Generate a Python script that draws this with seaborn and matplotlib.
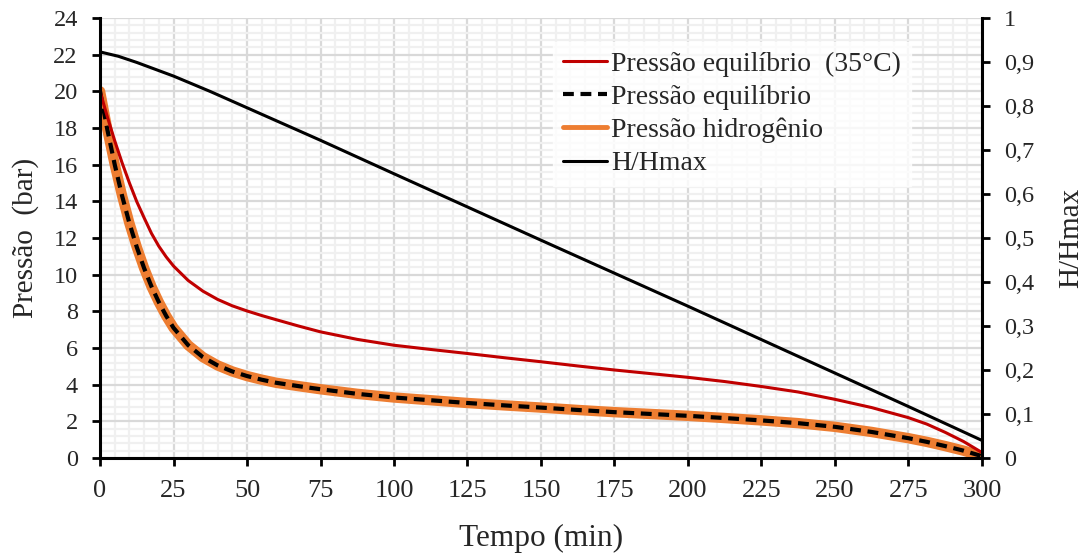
import numpy as np
import pandas as pd
import matplotlib
matplotlib.use('Agg')
import matplotlib.pyplot as plt
import seaborn as sns
from matplotlib.ticker import MultipleLocator, FuncFormatter

# tempo (min) e series
tempo = [0, 2.5, 5, 7.5, 10, 12.5, 15, 17.5, 20, 22.5, 25, 30, 35, 40, 45, 50, 55, 60,
         67.5, 75, 87.5, 100, 112.5, 125, 137.5, 150, 162.5, 175, 187.5, 200, 212.5,
         225, 237.5, 250, 262.5, 275, 281.25, 287.5, 293.75, 300]
p_eq35 = [20.0, 18.6, 17.3, 16.1, 15.0, 13.98, 13.1, 12.25, 11.55, 10.97, 10.47, 9.68, 9.1,
          8.65, 8.3, 8.02, 7.77, 7.54, 7.2, 6.88, 6.47, 6.15, 5.92, 5.7, 5.47, 5.25, 5.02,
          4.8, 4.6, 4.4, 4.17, 3.9, 3.6, 3.2, 2.75, 2.2, 1.85, 1.4, 0.9, 0.3]
p_eq = [20.0, 17.9, 16.0, 14.3, 12.8, 11.5, 10.35, 9.35, 8.5, 7.75, 7.1, 6.15, 5.5,
        5.05, 4.72, 4.47, 4.27, 4.1, 3.92, 3.75, 3.5, 3.3, 3.15, 3.0, 2.87, 2.75, 2.62,
        2.5, 2.4, 2.3, 2.18, 2.05, 1.9, 1.7, 1.42, 1.08, 0.88, 0.65, 0.4, 0.1]
p_h2 = p_eq
tempo_h = [0, 6.25, 12.5, 25, 37.5, 50, 62.5, 75, 100, 150, 200, 250, 275, 300]
h_hmax = [0.923, 0.913, 0.899, 0.868, 0.833, 0.796, 0.759, 0.722, 0.646, 0.495, 0.345,
          0.193, 0.117, 0.04]

sns.set_theme(style="white")
plt.rcParams['font.family'] = ['Liberation Serif', 'DejaVu Serif']

fig = plt.figure(figsize=(10.91, 5.54), dpi=100)
ax = fig.add_axes([0.0917, 0.1733, 0.8083, 0.7942])
ax2 = ax.twinx()

df = pd.DataFrame({'tempo': tempo, 'p_eq35': p_eq35, 'p_eq': p_eq, 'p_h2': p_h2})
dh = pd.DataFrame({'tempo': tempo_h, 'h': h_hmax})

sns.lineplot(data=df, x='tempo', y='p_h2', ax=ax, color='#ED7D31', linewidth=7.5,
             label='Pressão hidrogênio')
sns.lineplot(data=df, x='tempo', y='p_eq', ax=ax, color='black', linewidth=3,
             linestyle=(0, (2.6, 1.6)), label='Pressão equilíbrio')
sns.lineplot(data=df, x='tempo', y='p_eq35', ax=ax, color='#C00000', linewidth=2.2,
             label='Pressão equilíbrio  (35°C)')
sns.lineplot(data=dh, x='tempo', y='h', ax=ax2, color='black', linewidth=2.2,
             label='H/Hmax')

ax.set_xlim(0, 300)
ax.set_ylim(0, 24)
ax2.set_ylim(0, 1)
ax.xaxis.set_major_locator(MultipleLocator(25))
ax.xaxis.set_minor_locator(MultipleLocator(5))
ax.yaxis.set_major_locator(MultipleLocator(2))
ax.yaxis.set_minor_locator(MultipleLocator(0.4))
ax2.yaxis.set_major_locator(MultipleLocator(0.1))
ax2.yaxis.set_major_formatter(FuncFormatter(lambda v, p: ('%g' % round(v, 1)).replace('.', ',')))

ax.grid(which='major', color='#d9d9d9', linewidth=1.6)
ax.grid(which='minor', color='#f0f0f0', linewidth=1.6)
ax.set_axisbelow(True)

for a in (ax, ax2):
    for s in a.spines.values():
        s.set_visible(False)
ax.spines['left'].set_visible(True)
ax.spines['bottom'].set_visible(True)
ax2.spines['right'].set_visible(True)
for s in (ax.spines['left'], ax.spines['bottom'], ax2.spines['right']):
    s.set_color('black')
    s.set_linewidth(2.2)

ax.tick_params(which='major', direction='out', length=6, width=2, color='black',
               left=True, bottom=True)
ax.tick_params(axis='x', labelsize=19, pad=10)
ax.tick_params(axis='y', labelsize=17.5, pad=10)
ax.tick_params(which='minor', length=0)
ax2.tick_params(which='major', direction='out', length=6, width=2, color='black',
                labelsize=17.5, right=True, pad=10)

ax.set_xlabel('Tempo (min)', fontsize=22.5)
ax.set_ylabel('Pressão  (bar)', fontsize=21)
ax2.set_ylabel('H/Hmax', fontsize=21)
ax.xaxis.set_label_coords(0.5, -0.182)
ax.yaxis.set_label_coords(-0.085, 0.5)
ax2.yaxis.set_label_coords(1.101, 0.5)
ax.xaxis.label.set_va('center')
ax.yaxis.label.set_va('center')
ax2.yaxis.label.set_va('center')

h1, l1 = ax.get_legend_handles_labels()
h2, l2 = ax2.get_legend_handles_labels()
ax.get_legend().remove()
ax2.get_legend().remove()
order = [2, 1, 0]
handles = [h1[i] for i in order] + h2
labels = [l1[i] for i in order] + l2
leg = ax2.legend(handles, labels, loc='upper left', bbox_to_anchor=(0.507, 0.925),
                 bbox_transform=fig.transFigure, fontsize=20, frameon=True,
                 handlelength=1.6, handletextpad=0.15, labelspacing=0.28,
                 borderpad=0.35, borderaxespad=0, fancybox=False)
leg.get_frame().set_facecolor('white')
leg.get_frame().set_edgecolor('white')
leg.legend_handles[2].set_linewidth(3.5)

fig.savefig('out.png', dpi=100)
